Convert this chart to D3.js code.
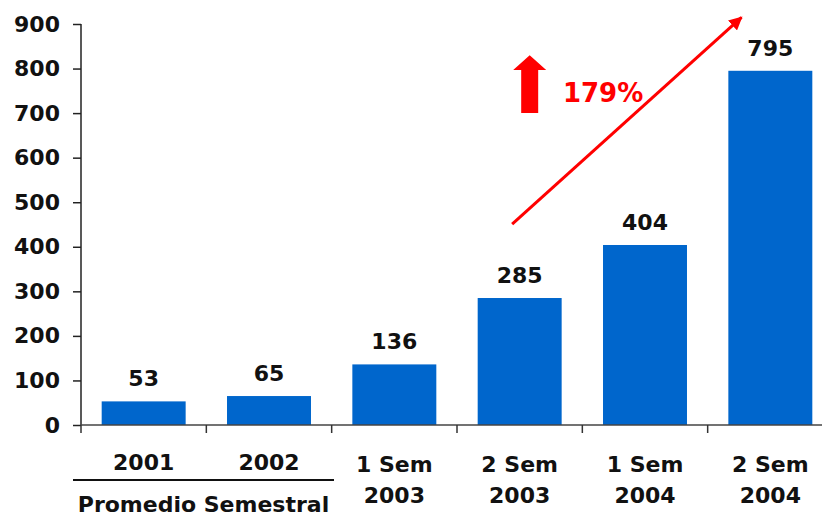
<!DOCTYPE html>
<html><head><meta charset="utf-8">
<script src="https://cdn.jsdelivr.net/npm/d3@7"></script>
<style>html,body{margin:0;padding:0;background:#fff;}svg{display:block;}</style>
</head><body>
<svg id="c" width="822" height="518"></svg>
<script>
const categories = [["2001"],["2002"],["1 Sem","2003"],["2 Sem","2003"],["1 Sem","2004"],["2 Sem","2004"]];
const values = [53, 65, 136, 285, 404, 795];
const yTicks = [0,100,200,300,400,500,600,700,800,900];
const groupLabel = "Promedio Semestral";
const growthLabel = "179%";

const svg = d3.select("#c");
const font = "'DejaVu Sans', sans-serif";
const x = d3.scaleBand().domain(d3.range(categories.length)).range([81, 833]).paddingInner(0.33).paddingOuter(0.165);
const xPos = d3.scaleLinear().domain([0, categories.length]).range([81, 833]);
const y = d3.scaleLinear().domain([0, 900]).range([425, 24]);

// bars
svg.selectAll("rect.bar").data(values).join("rect")
  .attr("class","bar")
  .attr("x",(d,i)=>x(i)).attr("width",x.bandwidth())
  .attr("y",d=>y(d)).attr("height",d=>y(0)-y(d))
  .attr("fill","#0066CC");

// value labels
svg.selectAll("text.val").data(values).join("text")
  .attr("class","val")
  .attr("x",(d,i)=>x(i)+x.bandwidth()/2).attr("y",d=>y(d)-15)
  .attr("text-anchor","middle").attr("font-family",font).attr("font-weight","bold")
  .attr("font-size",22).attr("fill","#111").text(d=>d);

// y axis
const yAxis = svg.append("g").attr("transform","translate(81,0)")
  .call(d3.axisLeft(y).tickValues(yTicks).tickSize(8).tickPadding(13));
yAxis.select(".domain").attr("stroke","#222").attr("stroke-width",1.5).attr("d","M0,"+y(900)+"V"+y(0));
yAxis.selectAll(".tick line").attr("stroke","#222").attr("stroke-width",1.5);
yAxis.selectAll(".tick text").attr("font-family",font).attr("font-weight","bold").attr("font-size",22).attr("fill","#111");

// x axis line and ticks at band boundaries
svg.append("line").attr("x1",81).attr("x2",822).attr("y1",y(0)).attr("y2",y(0))
  .attr("stroke","#444").attr("stroke-width",1.5);
svg.selectAll("line.xt").data(d3.range(categories.length)).join("line")
  .attr("class","xt").attr("x1",i=>xPos(i)).attr("x2",i=>xPos(i))
  .attr("y1",y(0)).attr("y2",y(0)+8).attr("stroke","#333").attr("stroke-width",1.5);

// category labels
const cl = svg.selectAll("text.cat").data(categories).join("text")
  .attr("class","cat").attr("text-anchor","middle").attr("font-family",font)
  .attr("font-weight","bold").attr("font-size",22).attr("fill","#111");
cl.each(function(lines,i){
  const t = d3.select(this);
  const cx = x(i)+x.bandwidth()/2;
  if(lines.length===1){
    t.append("tspan").attr("x",cx).attr("y",470).text(lines[0]);
  } else {
    t.append("tspan").attr("x",cx).attr("y",472).text(lines[0]);
    t.append("tspan").attr("x",cx).attr("y",503).text(lines[1]);
  }
});

// group label
svg.append("line").attr("x1",73).attr("x2",334).attr("y1",480).attr("y2",480)
  .attr("stroke","#111").attr("stroke-width",2);
svg.append("text").attr("x",(73+334)/2).attr("y",512).attr("text-anchor","middle")
  .attr("font-family",font).attr("font-weight","bold").attr("font-size",22).attr("fill","#111")
  .text(groupLabel);

// growth arrow
const defs = svg.append("defs");
defs.append("marker").attr("id","ah").attr("viewBox","0 0 10 10").attr("refX",9).attr("refY",5)
  .attr("markerWidth",4.5).attr("markerHeight",4.5).attr("orient","auto")
  .append("path").attr("d","M0,0L10,5L0,10Z").attr("fill","#FF0000");
svg.append("line")
  .attr("x1",xPos(3.44)).attr("y1",y(451))
  .attr("x2",xPos(5.27)).attr("y2",y(915))
  .attr("stroke","#FF0000").attr("stroke-width",3).attr("marker-end","url(#ah)");

// block up arrow
const bx = xPos(3.58);
const bTop = y(830), bHead = y(797), bBot = y(700);
svg.append("path")
  .attr("d",`M${bx-16.5},${bHead}L${bx},${bTop}L${bx+16.5},${bHead}L${bx+8.5},${bHead}L${bx+8.5},${bBot}L${bx-8.5},${bBot}L${bx-8.5},${bHead}Z`)
  .attr("fill","#FF0000");

svg.append("text").attr("x",xPos(3.845)).attr("y",y(724))
  .attr("font-family",font).attr("font-weight","bold").attr("font-size",26).attr("fill","#FF0000")
  .text(growthLabel);
</script>
</body></html>
